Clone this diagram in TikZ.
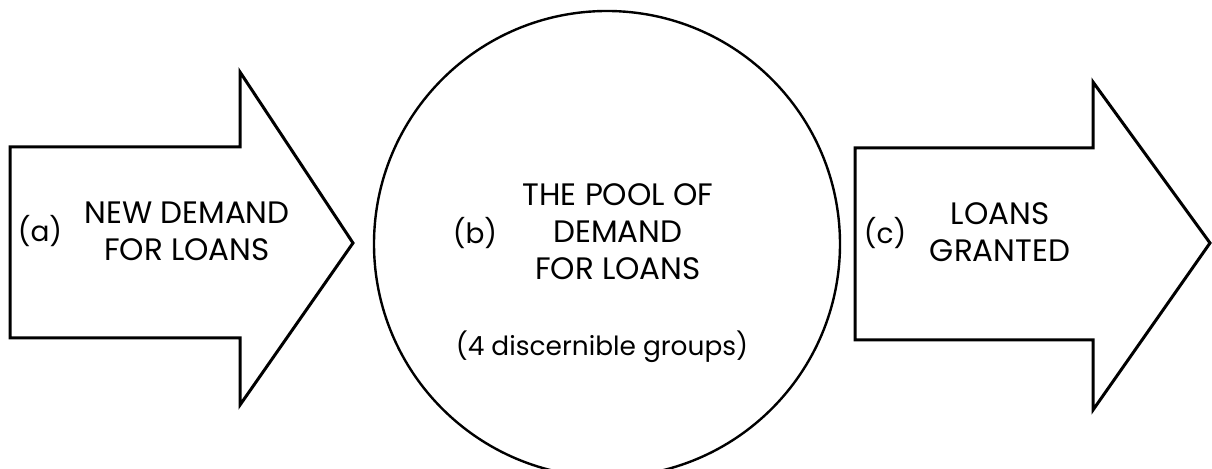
\documentclass[tikz,border=0pt]{standalone}
\usepackage{fontspec}
\setmainfont{Poppins}
\usepackage{tikz}
\usetikzlibrary{positioning}

\begin{document}
\begin{tikzpicture}[
  x=0.5pt, y=-0.5pt,
  font=\fontsize{15.5}{18.5}\selectfont,
  flow/.style={draw=black, line width=1.5pt, line join=miter, fill=white},
  pool/.style={draw=black, line width=1.2pt},
  caption/.style={align=center, inner sep=0pt},
  tag/.style={inner sep=0pt, font=\fontsize{14}{18.5}\selectfont},
  note/.style={inner sep=0pt, font=\fontsize{13.2}{18.5}\selectfont}
]
  \useasboundingbox (0,0) rectangle (1212,469);

  \draw[flow] (10,147) -- (240,147) -- (240,72) -- (353,243) -- (240,405)
    -- (240,338) -- (10,338) -- cycle;
  \draw[pool] (607,244) circle[radius=233];
  \draw[flow] (855,148) -- (1093,148) -- (1093,82) -- (1210,243) -- (1093,410)
    -- (1093,340) -- (855,340) -- cycle;

  \node[tag] (ta) at (40,231) {(a)};
  \node[caption] (ca) at (187,231) {NEW DEMAND\\FOR LOANS};

  \node[tag] (tb) at (475,233) {(b)};
  \node[caption] (cb) at (618,232) {THE POOL OF\\DEMAND\\FOR LOANS};
  \node[note] (gb) at (602,347) {(4 discernible groups)};

  \node[tag] (tc) at (885,233) {(c)};
  \node[caption] (cc) at (1000,232) {LOANS\\GRANTED};
\end{tikzpicture}
\end{document}
